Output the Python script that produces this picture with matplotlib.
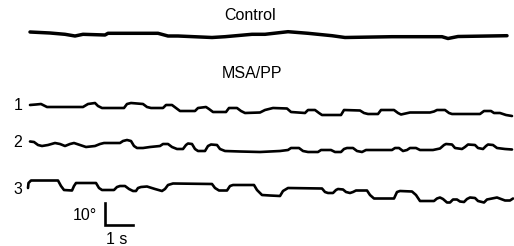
import matplotlib.pyplot as plt
import numpy as np

plt.rcParams['font.family'] = ['Liberation Sans', 'DejaVu Sans']

# traces (x along time, y downward as in the picture)
control = [(30, 32), (50, 33), (65, 34.3), (75, 36), (83, 34.3), (105, 35), (108, 33.3),
           (158, 33.3), (168, 36), (178, 36), (212, 37.5), (225, 36.7), (252, 34.3),
           (265, 34.3), (288, 31.7), (308, 33.3), (332, 35.7), (345, 37.5), (392, 36.7),
           (442, 36.7), (448, 38.5), (458, 36.5), (507, 35.7)]

trace1 = [(30, 105), (36, 104.5), (41, 104), (47, 107), (83, 107), (88, 104), (95, 103),
          (98, 106), (102, 108), (124, 108), (127, 104), (131, 103), (143, 104), (147, 107),
          (151, 108), (163, 108), (166, 105), (172, 105), (176, 108), (180, 111), (195, 111),
          (198, 108), (206, 107), (209, 109), (213, 112), (226, 112), (229, 108), (237, 108),
          (241, 111), (245, 113), (260, 112.5), (265, 110), (273, 108), (287, 108.5),
          (291, 112), (305, 113), (308, 110), (315, 110), (319, 113), (322, 115), (341, 115),
          (344, 110), (360, 110.5), (364, 113), (368, 114), (378, 114), (381, 110),
          (394, 110), (398, 113), (401, 114.5), (410, 112.5), (430, 112.5), (434, 111.5),
          (437, 110), (445, 110), (449, 113), (452, 114), (480, 114), (484, 111), (491, 111),
          (494, 113), (500, 113), (506, 115), (512, 116)]

trace2 = [(30, 141.5), (34, 142), (38, 145), (42, 146), (48, 145), (55, 143), (60, 144),
          (65, 146), (70, 144), (74, 143), (80, 145), (86, 147), (95, 146), (100, 144),
          (104, 143), (120, 143), (123, 141), (127, 140), (131, 141), (134, 146), (137, 148),
          (143, 148), (150, 147), (160, 146), (163, 144), (168, 144), (172, 147), (177, 149),
          (183, 149), (186, 145), (188, 143.5), (192, 144), (195, 149), (198, 151), (205, 151),
          (208, 146), (211, 144.5), (217, 145), (220, 149), (225, 151), (240, 151.5),
          (260, 152), (280, 151), (288, 150), (291, 148), (299, 148), (303, 151), (308, 152),
          (318, 152), (321, 150), (331, 150), (335, 152), (341, 152), (344, 149), (347, 148),
          (353, 148), (357, 151), (362, 152), (366, 150), (392, 150), (395, 148), (399, 148),
          (403, 151), (407, 150), (410, 148), (416, 148), (420, 150), (433, 150), (440, 148.5),
          (444, 145), (446, 144), (452, 144.5), (455, 148), (462, 149), (465, 147),
          (468, 144.5), (475, 145), (478, 148), (483, 149), (486, 146), (488, 144.5),
          (493, 145), (497, 148), (505, 149), (512, 149.5)]

trace3 = [(28, 188), (28.5, 183), (31, 180.5), (58, 180.5), (61, 186), (64, 190), (72, 190.5),
          (74, 186), (76, 183), (96, 183), (99, 188), (102, 190), (114, 190), (117, 187),
          (120, 186), (125, 186), (129, 189), (133, 191), (136, 191), (138, 188), (141, 187),
          (147, 186.5), (155, 189), (162, 191), (165, 189), (168, 185), (173, 183.5),
          (212, 184), (215, 188), (219, 190.5), (227, 190.5), (230, 186), (233, 185),
          (254, 185), (257, 190), (262, 195), (270, 195.5), (280, 196), (283, 191), (288, 188),
          (322, 188.5), (325, 192), (328, 193), (333, 193), (336, 190), (338, 189),
          (343, 189.5), (346, 192), (350, 193), (353, 192), (356, 190.5), (367, 190.5),
          (370, 195), (374, 198.5), (394, 198.5), (397, 192), (400, 191), (412, 191.5),
          (416, 195), (420, 201), (434, 201), (437, 198.5), (440, 197.5), (443, 199),
          (447, 202.5), (450, 202.5), (453, 199.5), (457, 199.5), (460, 201.5), (464, 202),
          (467, 199), (470, 197.5), (475, 198), (478, 201), (484, 202.5), (487, 199.5),
          (492, 198.5), (497, 197.5), (501, 199), (505, 200.5), (510, 200.5), (513, 198.5)]

trace_names = ['1', '2', '3']
trace_sets = [trace1, trace2, trace3]

fig = plt.figure(figsize=(5.14, 2.46), dpi=100)
ax = fig.add_axes([0, 0, 1, 1])
ax.set_xlim(0, 514)
ax.set_ylim(246, 0)
ax.axis('off')

c = np.array(control)
ax.plot(c[:, 0], c[:, 1], color='black', lw=2.5, solid_joinstyle='round', solid_capstyle='round')

for name, tr in zip(trace_names, trace_sets):
    a = np.array(tr)
    ax.plot(a[:, 0], a[:, 1], color='black', lw=1.9, solid_joinstyle='round', solid_capstyle='round')
    ax.text(18, a[0, 1] + 1, name, fontsize=11.5, ha='center', va='center')

ax.text(250, 15, 'Control', fontsize=11.5, ha='center', va='center')
ax.text(252, 73, 'MSA/PP', fontsize=11.5, ha='center', va='center')

# scale bar: 10 degrees, 1 s
ax.plot([105, 105, 133], [203, 225, 225], color='black', lw=1.9, solid_joinstyle='miter')
ax.text(85, 215, '10°', fontsize=11.5, ha='center', va='center')
ax.text(117, 240, '1 s', fontsize=11.5, ha='center', va='center')

fig.savefig('out.png', dpi=100)
